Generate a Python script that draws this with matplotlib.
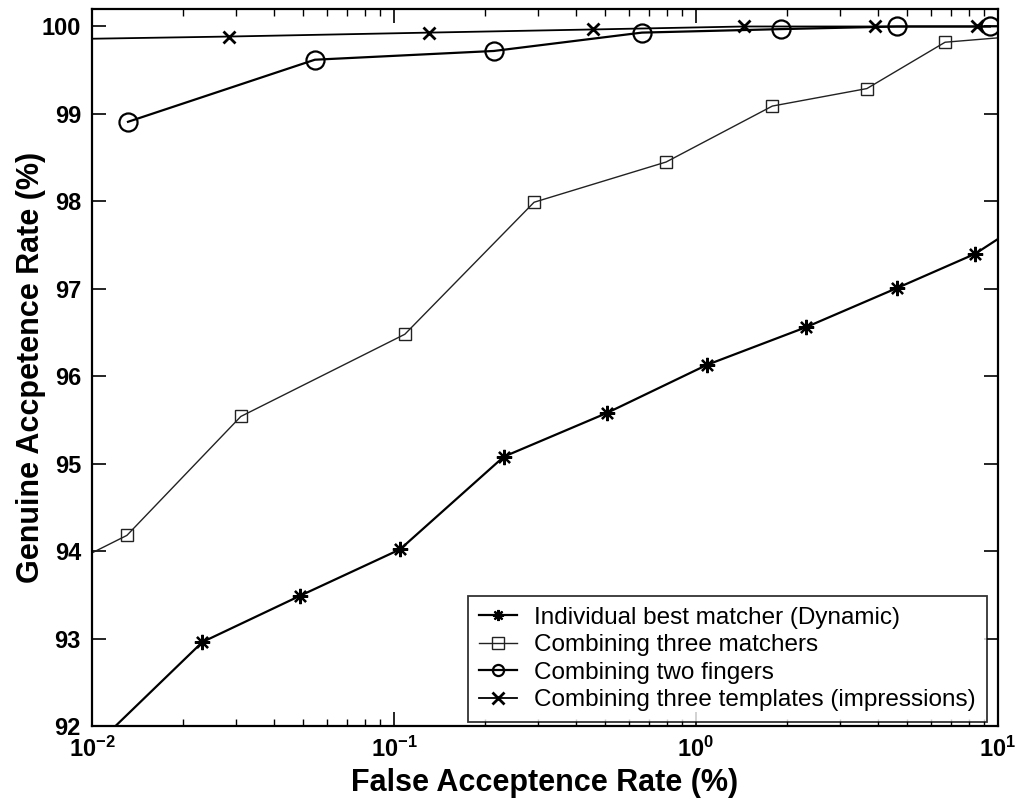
import matplotlib
matplotlib.use("Agg")
import matplotlib.pyplot as plt
from matplotlib.ticker import LogLocator, FixedLocator, NullFormatter

plt.rcParams['font.family'] = ['Liberation Sans', 'DejaVu Sans']
plt.rcParams['mathtext.fontset'] = 'custom'
plt.rcParams['mathtext.rm'] = 'Liberation Sans'
plt.rcParams['mathtext.bf'] = 'Liberation Sans:bold'

# Data (FAR %, GAR %); first/last entries of some series are where the line meets the axes edge
ind_far = [0.01, 0.0232, 0.0489, 0.1047, 0.231, 0.507, 1.087, 2.31, 4.64, 8.4, 10.0]
ind_gar = [91.74, 92.96, 93.49, 94.02, 95.08, 95.58, 96.13, 96.56, 97.01, 97.40, 97.57]

mat_far = [0.01, 0.01305, 0.0311, 0.1086, 0.291, 0.796, 1.79, 3.68, 6.68, 10.0]
mat_gar = [93.98, 94.18, 95.54, 96.48, 97.99, 98.45, 99.09, 99.29, 99.82, 99.87]

fin_far = [0.01316, 0.0547, 0.214, 0.662, 1.91, 4.64, 9.4]
fin_gar = [98.91, 99.62, 99.72, 99.93, 99.97, 100.0, 100.0]

tpl_far = [0.01, 0.0284, 0.1306, 0.456, 1.44, 3.92, 8.5, 10.0]
tpl_gar = [99.86, 99.885, 99.93, 99.966, 100.0, 100.0, 100.0, 100.0]

labels = ["Individual best matcher (Dynamic)",
          "Combining three matchers",
          "Combining two fingers",
          "Combining three templates (impressions)"]

yticks = [92, 93, 94, 95, 96, 97, 98, 99, 100]
xticks = [1e-2, 1e-1, 1e0, 1e1]
xticklabels = [r'$\mathbf{10^{-2}}$', r'$\mathbf{10^{-1}}$', r'$\mathbf{10^{0}}$', r'$\mathbf{10^{1}}$']

fig = plt.figure(figsize=(10.15, 8.0), dpi=100)
ax = fig.add_axes([92/1015, 1-726/800, (998-92)/1015, (726-9)/800])

ax.plot(ind_far, ind_gar, color='black', lw=1.6, marker=(8, 2, 0), ms=11, mew=1.6,
        markevery=slice(1, len(ind_far)-1), label=labels[0])
ax.plot(mat_far, mat_gar, color='#222222', lw=1.0, marker='s', ms=9, mfc='none', mew=1.0,
        markevery=slice(1, len(mat_far)-1), label=labels[1])
ax.plot(fin_far, fin_gar, color='black', lw=1.6, marker='o', ms=13, mfc='none', mew=1.6,
        label=labels[2])
ax.plot(tpl_far, tpl_gar, color='black', lw=1.3, marker='x', ms=8, mew=2.0,
        markevery=slice(1, len(tpl_far)-1), label=labels[3])

ax.set_xscale('log')
ax.set_xlim(1e-2, 1e1)
ax.set_ylim(92, 100.2)
ax.xaxis.set_major_locator(FixedLocator(xticks))
ax.set_xticklabels(xticklabels)
ax.xaxis.set_minor_locator(LogLocator(base=10, subs=range(2, 10)))
ax.xaxis.set_minor_formatter(NullFormatter())
ax.set_yticks(yticks)
ax.set_yticklabels([str(v) for v in yticks])

ax.tick_params(axis='both', which='major', direction='in', length=10, width=1.2,
               top=True, right=True, labelsize=17, pad=8)
ax.tick_params(axis='both', which='minor', direction='in', length=5, width=1.0,
               top=True, right=True)
for lab in ax.get_yticklabels():
    lab.set_fontweight('bold')
for s in ax.spines.values():
    s.set_linewidth(1.6)

ax.set_xlabel("False Acceptence Rate (%)", fontsize=22, fontweight='bold', labelpad=4)
ax.set_ylabel("Genuine Accpetence Rate (%)", fontsize=22, fontweight='bold', labelpad=-3)

leg = ax.legend(loc='lower right', bbox_to_anchor=((987-92)/906, 4/717),
                fontsize=17.5, frameon=True, fancybox=False,
                edgecolor='black', handlelength=1.6, handletextpad=0.7,
                borderpad=0.45, labelspacing=0.22, borderaxespad=0.0)
leg.get_frame().set_linewidth(1.3)
for h in leg.legend_handles:
    h.set_markersize(8)

fig.savefig("out.png", dpi=100)
